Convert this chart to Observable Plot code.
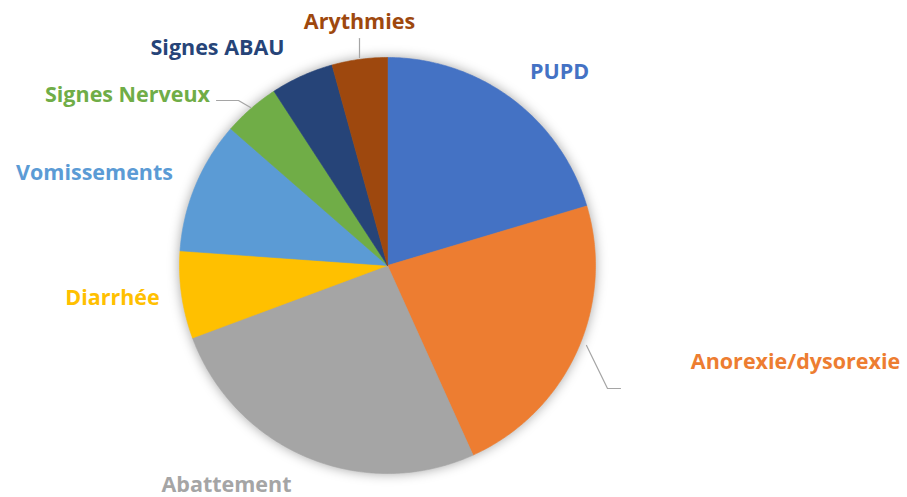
<!DOCTYPE html>
<html><head><meta charset="utf-8">
<script src="https://cdn.jsdelivr.net/npm/d3@7"></script>
<script src="https://cdn.jsdelivr.net/npm/@observablehq/plot@0.6"></script>
<style>
html,body{margin:0;padding:0;background:#fff;}
#chart{width:907px;height:497px;}
</style>
</head><body><div id="chart"></div>
<script>
// Data
const categories = ["PUPD","Anorexie/dysorexie","Abattement","Diarrhée","Vomissements","Signes Nerveux","Signes ABAU","Arythmies"];
const values = [20.4, 22.9, 26.1, 6.8, 10.3, 4.4, 4.9, 4.3];
const colors = ["#4472C4","#ED7D31","#A5A5A5","#FFC000","#5B9BD5","#70AD47","#264478","#9E480E"];

// Layout (pixels)
const W = 907, H = 497, CX = 387, CY = 265, R = 208;
const labelPos = {
  "PUPD": [559, 72],
  "Anorexie/dysorexie": [795, 362],
  "Abattement": [226, 485],
  "Diarrhée": [112, 298],
  "Vomissements": [94, 173],
  "Signes Nerveux": [127, 95],
  "Signes ABAU": [217, 48],
  "Arythmies": [359, 22]
};
const leaders = [
  {name: "Arythmies", pts: [[359, 38], [359, 57]]},
  {name: "Signes Nerveux", pts: [[216, 100], [238, 100], [250, 107]]},
  {name: "Anorexie/dysorexie", pts: [[586, 345], [607, 388], [620, 388]]}
];
const ux = px => (px - CX) / R;
const uy = py => (CY - py) / R;

const pie = d3.pie().sort(null).value(d => d.value)(categories.map((c, i) => ({name: c, value: values[i], color: colors[i]})));
const slicePts = [];
for (const s of pie) {
  const n = Math.max(4, Math.ceil((s.endAngle - s.startAngle) / 0.01));
  slicePts.push({name: s.data.name, x: 0, y: 0, color: s.data.color});
  for (let k = 0; k <= n; k++) {
    const a = s.startAngle + (s.endAngle - s.startAngle) * k / n;
    slicePts.push({name: s.data.name, x: Math.sin(a), y: Math.cos(a), color: s.data.color});
  }
  slicePts.push({name: s.data.name, x: 0, y: 0, color: s.data.color});
}
const labels = categories.map((c, i) => ({name: c, x: ux(labelPos[c][0]), y: uy(labelPos[c][1]), color: c === "Abattement" ? "#A5A5A5" : colors[i]}));
const leaderPts = leaders.flatMap(l => l.pts.map(p => ({name: l.name, x: ux(p[0]), y: uy(p[1])})));

const chart = Plot.plot({
  width: W, height: H,
  margin: 0,
  x: {domain: [ux(0), ux(W)], range: [0, W], axis: null},
  y: {domain: [uy(H), uy(0)], range: [H, 0], axis: null},
  style: {fontFamily: "'Open Sans', sans-serif", background: "#fff"},
  marks: [
    Plot.line(slicePts, {x: "x", y: "y", z: "name", fill: "color", stroke: "color", strokeWidth: 0.6, curve: "linear"}),
    Plot.line(leaderPts, {x: "x", y: "y", z: "name", stroke: "#A5A5A5", strokeWidth: 1.2}),
    Plot.text(labels, {x: "x", y: "y", text: "name", fill: "color", fontSize: 21.5, fontWeight: "bold", textAnchor: "middle"})
  ]
});
const g = chart.querySelector('g[aria-label="line"]');
if (g) g.style.filter = "drop-shadow(0px 0px 6px rgba(0,0,0,0.35))";
document.getElementById("chart").appendChild(chart);
</script>
</body></html>
